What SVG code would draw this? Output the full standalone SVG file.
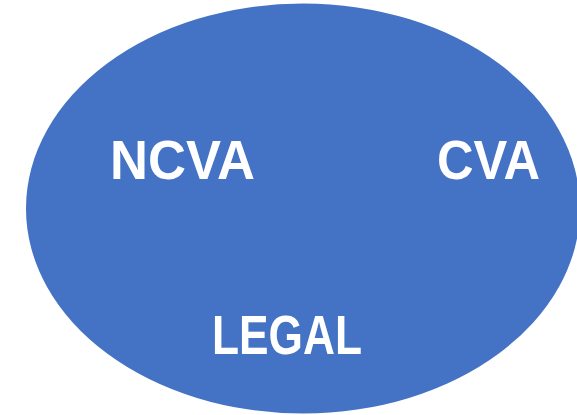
<svg xmlns="http://www.w3.org/2000/svg" width="577" height="415" viewBox="0 0 577 415">
<style>
.lbl{font-family:"Liberation Sans",Arial,sans-serif;font-weight:bold;font-size:56px;fill:#FFFFFF}
</style>
<rect width="577" height="415" fill="#FFFFFF"/>
<g id="set">
<ellipse cx="303" cy="208.5" rx="277" ry="205" fill="#4472C4"/>
</g>
<g id="ncva"><text class="lbl" x="110" y="179" textLength="145" lengthAdjust="spacingAndGlyphs">NCVA</text></g>
<g id="cva"><text class="lbl" x="437" y="179" textLength="103" lengthAdjust="spacingAndGlyphs">CVA</text></g>
<g id="legal"><text class="lbl" x="212" y="354" textLength="150" lengthAdjust="spacingAndGlyphs">LEGAL</text></g>
<g id="connectors"/>
</svg>
